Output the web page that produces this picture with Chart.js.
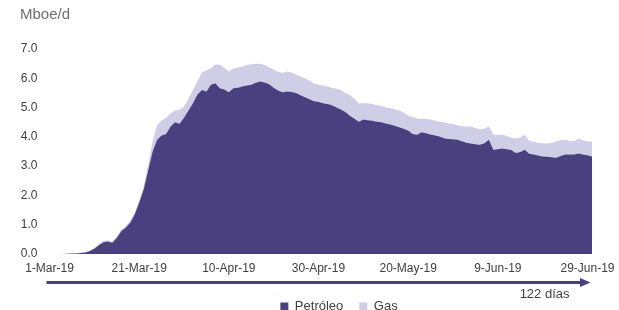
<!DOCTYPE html>
<html>
<head>
<meta charset="utf-8">
<script src="https://cdn.jsdelivr.net/npm/chart.js@4.4.1/dist/chart.umd.min.js"></script>
<style>
  html, body { margin: 0; padding: 0; background: #fff; }
  #wrap { width: 619px; height: 310px; }
</style>
</head>
<body>
<div id="wrap"><canvas id="myChart"></canvas></div>
<script>
// dias: 1-Mar-19 .. 30-Jun-19 (122 dias)
const meses = [["Mar", 31], ["Apr", 30], ["May", 31], ["Jun", 30]];
const fechas = [];
meses.forEach(m => {
  for (let d = 1; d <= m[1]; d++) fechas.push(d + "-" + m[0] + "-19");
});

// Mboe/d
const petroleo = [
  0, 0, 0, 0, 0.01, 0.02, 0.02, 0.03, 0.05, 0.1,
  0.18, 0.3, 0.4, 0.43, 0.38, 0.55, 0.78, 0.9, 1.07, 1.35,
  1.75, 2.2, 2.85, 3.5, 3.9, 4.05, 4.1, 4.35, 4.5, 4.45,
  4.65, 4.9, 5.15, 5.45, 5.6, 5.55, 5.78, 5.83, 5.66, 5.62,
  5.52, 5.66, 5.68, 5.72, 5.75, 5.78, 5.85, 5.89, 5.86, 5.8,
  5.68, 5.58, 5.52, 5.55, 5.53, 5.5, 5.42, 5.35, 5.28, 5.22,
  5.2, 5.15, 5.12, 5.08, 5.0, 4.93, 4.85, 4.72, 4.62, 4.52,
  4.59, 4.57, 4.55, 4.52, 4.5, 4.46, 4.42, 4.38, 4.33, 4.28,
  4.22, 4.1, 4.07, 4.16, 4.12, 4.08, 4.05, 4.01, 3.95, 3.93,
  3.92, 3.9, 3.85, 3.8, 3.77, 3.75, 3.73, 3.78, 3.9, 3.56,
  3.58, 3.6, 3.58, 3.55, 3.45, 3.48, 3.56, 3.42, 3.4, 3.36,
  3.33, 3.32, 3.3, 3.29, 3.35, 3.4, 3.4, 3.4, 3.43, 3.4,
  3.37, 3.33
];
const gas = [
  0, 0, 0, 0.01, 0.01, 0.01, 0.01, 0.02, 0.02, 0.02,
  0.03, 0.03, 0.04, 0.04, 0.04, 0.05, 0.05, 0.06, 0.06, 0.07,
  0.08, 0.1, 0.2, 0.35, 0.5, 0.5, 0.55, 0.45, 0.4, 0.48,
  0.38, 0.4, 0.45, 0.45, 0.6, 0.72, 0.57, 0.64, 0.81, 0.73,
  0.71, 0.67, 0.69, 0.68, 0.7, 0.7, 0.65, 0.61, 0.59, 0.58,
  0.62, 0.64, 0.66, 0.68, 0.67, 0.62, 0.64, 0.65, 0.64, 0.6,
  0.58, 0.6, 0.6, 0.6, 0.64, 0.67, 0.65, 0.71, 0.68, 0.62,
  0.57, 0.57, 0.57, 0.56, 0.55, 0.54, 0.56, 0.56, 0.57, 0.55,
  0.5, 0.58, 0.56, 0.46, 0.5, 0.51, 0.5, 0.51, 0.55, 0.53,
  0.52, 0.5, 0.51, 0.55, 0.58, 0.55, 0.52, 0.5, 0.45, 0.52,
  0.49, 0.47, 0.45, 0.42, 0.49, 0.5, 0.51, 0.44, 0.44, 0.44,
  0.45, 0.45, 0.5, 0.55, 0.53, 0.5, 0.45, 0.46, 0.51, 0.48,
  0.47, 0.51
];
const yTicks = [0, 1, 2, 3, 4, 5, 6, 7];

const colorPetroleo = "#4a4080";
const colorGas = "#d0cde6";

// flecha "122 dias" debajo del eje x y ajuste de la leyenda
const flechaDias = {
  id: "flechaDias",
  afterLayout(chart) {
    const lg = chart.legend;
    lg.left += 33;
    lg.right += 33;
    const dy = 284 - lg.top;
    lg.top += dy;
    lg.bottom += dy;
  },
  afterDraw(chart) {
    const ctx = chart.ctx;
    const a = chart.chartArea;
    const y = a.bottom + 28.5;
    ctx.save();
    ctx.fillStyle = colorPetroleo;
    ctx.fillRect(a.left - 3, y - 1.5, a.right - a.left - 8, 3);
    ctx.beginPath();
    ctx.moveTo(a.right - 12, y - 4.5);
    ctx.lineTo(a.right - 1.5, y);
    ctx.lineTo(a.right - 12, y + 4.5);
    ctx.closePath();
    ctx.fill();
    ctx.font = "13px 'Liberation Sans', Arial, sans-serif";
    ctx.fillStyle = "#404040";
    ctx.textAlign = "right";
    ctx.textBaseline = "middle";
    ctx.fillText("122 días", a.right - 22.5, y + 12);
    ctx.restore();
  }
};

Chart.defaults.font.family = "'Liberation Sans', Arial, sans-serif";

const ctx = document.getElementById("myChart").getContext("2d");
let myChart = new Chart(ctx, {
  type: "line",
  data: {
    labels: fechas,
    datasets: [{
      label: "Petróleo",
      data: petroleo,
      backgroundColor: colorPetroleo,
      borderColor: colorPetroleo,
      borderWidth: 0,
      pointRadius: 0,
      fill: "origin",
    }, {
      label: "Gas",
      data: gas,
      backgroundColor: colorGas,
      borderColor: colorGas,
      borderWidth: 0,
      pointRadius: 0,
      fill: "-1",
    }],
  },
  options: {
    responsive: true,
    maintainAspectRatio: false,
    animation: false,
    layout: { padding: { left: 20, right: 27, top: 0, bottom: -6 } },
    plugins: {
      title: {
        display: true,
        text: "Mboe/d",
        align: "start",
        color: "#6f6f6f",
        font: { size: 15, weight: "normal" },
        padding: { top: 6, bottom: 25 },
      },
      legend: {
        position: "bottom",
        labels: {
          boxWidth: 8,
          boxHeight: 8,
          padding: 16,
          color: "#404040",
          font: { size: 13 },
        },
      },
      tooltip: { enabled: false },
    },
    scales: {
      y: {
        stacked: true,
        min: 0,
        max: 7,
        afterBuildTicks: (s) => { s.ticks = yTicks.map(v => ({ value: v })); },
        afterFit: (s) => { s.width = 29.5; },
        grid: { display: false, drawTicks: false },
        border: { display: false },
        ticks: {
          color: "#404040",
          padding: 12,
          font: { size: 12 },
          callback: (v) => Number(v).toFixed(1),
        },
      },
      x: {
        grid: { display: false, drawTicks: false },
        border: { display: false },
        afterFit: (s) => { s.height = 23; },
        ticks: {
          autoSkip: false,
          maxRotation: 0,
          minRotation: 0,
          color: "#404040",
          padding: 7,
          font: { size: 12 },
          callback: function (v, i) { return i % 20 === 0 ? this.getLabelForValue(v) : ""; },
        },
      },
    },
  },
  plugins: [flechaDias],
});
</script>
</body>
</html>
